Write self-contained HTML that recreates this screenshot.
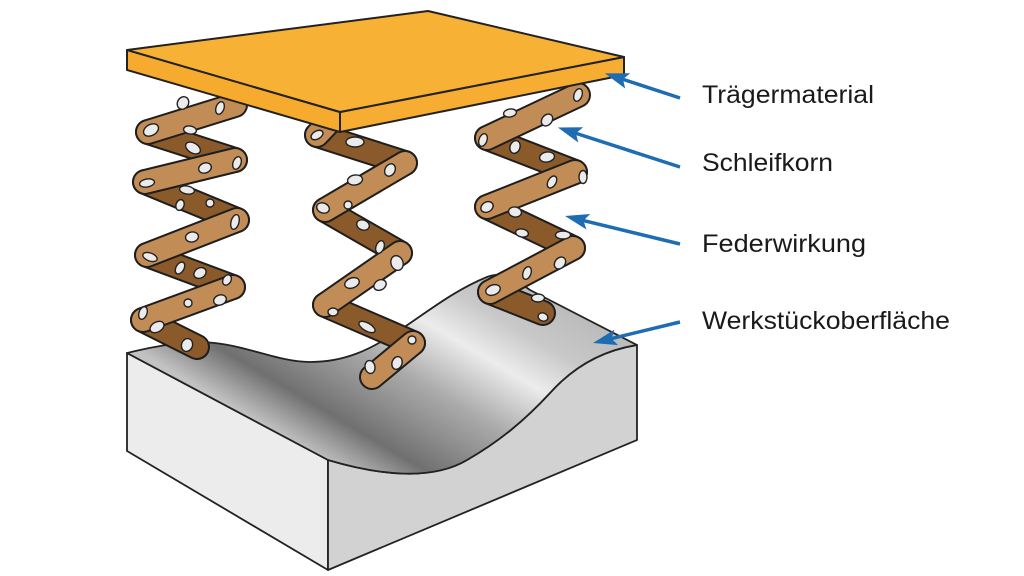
<!DOCTYPE html>
<html>
<head>
<meta charset="utf-8">
<style>
  html,body{margin:0;padding:0;background:#ffffff;}
  body{width:1024px;height:576px;overflow:hidden;}
  svg{display:block;}
  text{font-family:"Liberation Sans", "DejaVu Sans", sans-serif;fill:#1a1a1a;font-size:25px;}
</style>
</head>
<body>
<svg width="1024" height="576" viewBox="0 0 1024 576" xmlns="http://www.w3.org/2000/svg">
  <defs>
    <linearGradient id="surf" gradientUnits="userSpaceOnUse" x1="200" y1="388" x2="333" y2="164">
      <stop offset="0" stop-color="#c2c2c2"/>
      <stop offset="0.08" stop-color="#9c9c9c"/>
      <stop offset="0.17" stop-color="#707070"/>
      <stop offset="0.30" stop-color="#8c8c8c"/>
      <stop offset="0.45" stop-color="#ababab"/>
      <stop offset="0.66" stop-color="#ececec"/>
      <stop offset="0.82" stop-color="#c8c8c8"/>
      <stop offset="1" stop-color="#bababa"/>
    </linearGradient>
    <marker id="ah" markerUnits="userSpaceOnUse" markerWidth="26" markerHeight="18" refX="6" refY="8" orient="auto">
      <path d="M0,0 L24,8 L0,16 L5,8 Z" fill="#1e6cb4"/>
    </marker>
  </defs>

  <!-- Workpiece block -->
  <g stroke="#222" stroke-width="1.8" stroke-linejoin="round">
    <polygon points="127,353 328,460 328,570 127,451" fill="#ececec"/>
    <path d="M328,460 C375,474 430,482 467,460 C500,441 525,420 550,393 C575,365 605,350 637,345 L637,440 L328,570 Z" fill="#d2d2d2"/>
    <path d="M127,353 L328,460 C375,474 430,482 467,460 C500,441 525,420 550,393 C575,365 605,350 637,345 L530,290 C518,282 505,270 487,277 C455,290 430,310 400,330 C370,350 345,362 310,362 C280,362 250,347 215,343 C190,340 160,345 127,353 Z" fill="url(#surf)"/>
  </g>

  <!-- Spring 1 -->
  <g stroke-linecap="round">
    <g stroke="#1e1e1e" stroke-width="26">
      <line x1="148" y1="132" x2="235" y2="160"/>
      <line x1="145" y1="182" x2="237" y2="220"/>
      <line x1="147" y1="255" x2="233" y2="287"/>
      <line x1="143" y1="320" x2="197" y2="347"/>
    </g>
    <g stroke="#8b5a2b" stroke-width="22">
      <line x1="148" y1="132" x2="235" y2="160"/>
      <line x1="145" y1="182" x2="237" y2="220"/>
      <line x1="147" y1="255" x2="233" y2="287"/>
      <line x1="143" y1="320" x2="197" y2="347"/>
    </g>
    <g stroke="#1e1e1e" stroke-width="26">
      <line x1="148" y1="132" x2="235" y2="105"/>
      <line x1="145" y1="182" x2="235" y2="160"/>
      <line x1="147" y1="255" x2="237" y2="220"/>
      <line x1="143" y1="320" x2="233" y2="287"/>
    </g>
    <g stroke="#c28c56" stroke-width="22">
      <line x1="148" y1="132" x2="235" y2="105"/>
      <line x1="145" y1="182" x2="235" y2="160"/>
      <line x1="147" y1="255" x2="237" y2="220"/>
      <line x1="143" y1="320" x2="233" y2="287"/>
    </g>
  </g>

  <!-- Spring 2 -->
  <g stroke-linecap="round">
    <g stroke="#1e1e1e" stroke-width="26">
      <line x1="317" y1="135" x2="405" y2="163"/>
      <line x1="325" y1="210" x2="400" y2="253"/>
      <line x1="325" y1="305" x2="413" y2="343"/>
    </g>
    <g stroke="#8b5a2b" stroke-width="22">
      <line x1="317" y1="135" x2="405" y2="163"/>
      <line x1="325" y1="210" x2="400" y2="253"/>
      <line x1="325" y1="305" x2="413" y2="343"/>
    </g>
    <g stroke="#1e1e1e" stroke-width="26">
      <line x1="317" y1="135" x2="350" y2="100"/>
      <line x1="405" y1="163" x2="325" y2="210"/>
      <line x1="400" y1="253" x2="325" y2="305"/>
      <line x1="413" y1="343" x2="372" y2="377"/>
    </g>
    <g stroke="#c28c56" stroke-width="22">
      <line x1="317" y1="135" x2="350" y2="100"/>
      <line x1="405" y1="163" x2="325" y2="210"/>
      <line x1="400" y1="253" x2="325" y2="305"/>
      <line x1="413" y1="343" x2="372" y2="377"/>
    </g>
  </g>

  <!-- Spring 3 -->
  <g stroke-linecap="round">
    <g stroke="#1e1e1e" stroke-width="26">
      <line x1="487" y1="138" x2="575" y2="172"/>
      <line x1="487" y1="207" x2="573" y2="248"/>
      <line x1="490" y1="292" x2="543" y2="313"/>
    </g>
    <g stroke="#8b5a2b" stroke-width="22">
      <line x1="487" y1="138" x2="575" y2="172"/>
      <line x1="487" y1="207" x2="573" y2="248"/>
      <line x1="490" y1="292" x2="543" y2="313"/>
    </g>
    <g stroke="#1e1e1e" stroke-width="26">
      <line x1="487" y1="138" x2="578" y2="95"/>
      <line x1="575" y1="172" x2="487" y2="207"/>
      <line x1="573" y1="248" x2="490" y2="292"/>
    </g>
    <g stroke="#c28c56" stroke-width="22">
      <line x1="487" y1="138" x2="578" y2="95"/>
      <line x1="575" y1="172" x2="487" y2="207"/>
      <line x1="573" y1="248" x2="490" y2="292"/>
    </g>
  </g>

  <!-- Abrasive grains -->
  <g fill="#ebebeb" stroke="#222" stroke-width="1.4">
    <ellipse cx="183" cy="103" rx="5.5" ry="6.5" transform="rotate(30 183 103)"/>
    <ellipse cx="220" cy="108" rx="4" ry="6.5" transform="rotate(20 220 108)"/>
    <ellipse cx="151" cy="130" rx="8" ry="5.5" transform="rotate(-30 151 130)"/>
    <ellipse cx="190" cy="130" rx="6.5" ry="4" transform="rotate(10 190 130)"/>
    <ellipse cx="193" cy="148" rx="8" ry="5" transform="rotate(30 193 148)"/>
    <ellipse cx="205" cy="168" rx="6.5" ry="5" transform="rotate(-20 205 168)"/>
    <ellipse cx="237" cy="163" rx="4" ry="6.5" transform="rotate(20 237 163)"/>
    <ellipse cx="147" cy="183" rx="7.5" ry="4" transform="rotate(-10 147 183)"/>
    <ellipse cx="187" cy="190" rx="7.5" ry="4" transform="rotate(10 187 190)"/>
    <ellipse cx="180" cy="205" rx="4" ry="5.5" transform="rotate(20 180 205)"/>
    <ellipse cx="210" cy="203" rx="4" ry="4"/>
    <ellipse cx="235" cy="222" rx="4" ry="7.5" transform="rotate(15 235 222)"/>
    <ellipse cx="192" cy="237" rx="6.5" ry="5" transform="rotate(-10 192 237)"/>
    <ellipse cx="150" cy="257" rx="7.5" ry="4" transform="rotate(20 150 257)"/>
    <ellipse cx="180" cy="268" rx="4" ry="6.5" transform="rotate(30 180 268)"/>
    <ellipse cx="200" cy="273" rx="6.5" ry="5" transform="rotate(-30 200 273)"/>
    <ellipse cx="227" cy="280" rx="4" ry="5.5" transform="rotate(30 227 280)"/>
    <ellipse cx="188" cy="303" rx="4" ry="4"/>
    <ellipse cx="220" cy="300" rx="6.5" ry="5" transform="rotate(-20 220 300)"/>
    <ellipse cx="143" cy="313" rx="4" ry="6.5" transform="rotate(20 143 313)"/>
    <ellipse cx="157" cy="327" rx="7.5" ry="5" transform="rotate(-30 157 327)"/>
    <ellipse cx="187" cy="345" rx="5.5" ry="6.5" transform="rotate(20 187 345)"/>

    <ellipse cx="317" cy="135" rx="6.5" ry="4" transform="rotate(-30 317 135)"/>
    <ellipse cx="355" cy="142" rx="9" ry="5"/>
    <ellipse cx="390" cy="170" rx="5" ry="6.5" transform="rotate(30 390 170)"/>
    <ellipse cx="355" cy="180" rx="7.5" ry="5" transform="rotate(-10 355 180)"/>
    <ellipse cx="348" cy="205" rx="4" ry="4"/>
    <ellipse cx="323" cy="208" rx="6.5" ry="5" transform="rotate(20 323 208)"/>
    <ellipse cx="363" cy="225" rx="6.5" ry="5" transform="rotate(20 363 225)"/>
    <ellipse cx="380" cy="247" rx="4" ry="6.5" transform="rotate(20 380 247)"/>
    <ellipse cx="397" cy="263" rx="6" ry="7.5" transform="rotate(-20 397 263)"/>
    <ellipse cx="352" cy="283" rx="7.5" ry="5" transform="rotate(-20 352 283)"/>
    <ellipse cx="380" cy="285" rx="6.5" ry="5" transform="rotate(-30 380 285)"/>
    <ellipse cx="333" cy="312" rx="5" ry="4"/>
    <ellipse cx="367" cy="327" rx="9" ry="4" transform="rotate(30 367 327)"/>
    <ellipse cx="370" cy="367" rx="5" ry="6.5" transform="rotate(-10 370 367)"/>
    <ellipse cx="397" cy="363" rx="5" ry="6.5" transform="rotate(20 397 363)"/>
    <ellipse cx="412" cy="340" rx="4" ry="4"/>

    <ellipse cx="578" cy="95" rx="4" ry="6.5" transform="rotate(20 578 95)"/>
    <ellipse cx="510" cy="113" rx="6.5" ry="4" transform="rotate(-10 510 113)"/>
    <ellipse cx="547" cy="120" rx="5" ry="6.5" transform="rotate(40 547 120)"/>
    <ellipse cx="483" cy="140" rx="4" ry="6.5" transform="rotate(20 483 140)"/>
    <ellipse cx="515" cy="147" rx="5" ry="6.5" transform="rotate(20 515 147)"/>
    <ellipse cx="547" cy="157" rx="7.5" ry="5" transform="rotate(-10 547 157)"/>
    <ellipse cx="583" cy="177" rx="4" ry="6.5"/>
    <ellipse cx="552" cy="182" rx="4" ry="6.5" transform="rotate(30 552 182)"/>
    <ellipse cx="487" cy="207" rx="6.5" ry="5" transform="rotate(-30 487 207)"/>
    <ellipse cx="515" cy="212" rx="6.5" ry="5" transform="rotate(10 515 212)"/>
    <ellipse cx="522" cy="233" rx="6.5" ry="4" transform="rotate(10 522 233)"/>
    <ellipse cx="563" cy="235" rx="7.5" ry="4"/>
    <ellipse cx="560" cy="263" rx="5" ry="6.5" transform="rotate(40 560 263)"/>
    <ellipse cx="527" cy="273" rx="4" ry="6.5" transform="rotate(20 527 273)"/>
    <ellipse cx="493" cy="290" rx="7.5" ry="5" transform="rotate(-20 493 290)"/>
    <ellipse cx="538" cy="298" rx="6.5" ry="4"/>
    <ellipse cx="543" cy="317" rx="5" ry="4" transform="rotate(20 543 317)"/>
  </g>

  <!-- Carrier plate -->
  <g stroke="#222" stroke-width="2" stroke-linejoin="round">
    <polygon points="127,50 340,112 340,132 127,70" fill="#f6ab2e"/>
    <polygon points="340,112 624,57 624,75 340,132" fill="#f6ad31"/>
    <polygon points="127,50 428,11 624,57 340,112" fill="#f7b134"/>
  </g>

  <!-- Arrows -->
  <g stroke="#1e6cb4" stroke-width="3.5" fill="none" marker-end="url(#ah)">
    <line x1="680" y1="98" x2="622" y2="79"/>
    <line x1="680" y1="167" x2="575" y2="133"/>
    <line x1="680" y1="244" x2="582.5" y2="220.3"/>
    <line x1="680" y1="322" x2="610.5" y2="338.8"/>
  </g>

  <!-- Labels -->
  <text x="702" y="103" textLength="172" lengthAdjust="spacingAndGlyphs">Trägermaterial</text>
  <text x="702" y="171" textLength="131" lengthAdjust="spacingAndGlyphs">Schleifkorn</text>
  <text x="702" y="252" textLength="164" lengthAdjust="spacingAndGlyphs">Federwirkung</text>
  <text x="702" y="329" textLength="248" lengthAdjust="spacingAndGlyphs">Werkstückoberfläche</text>
</svg>
</body>
</html>
